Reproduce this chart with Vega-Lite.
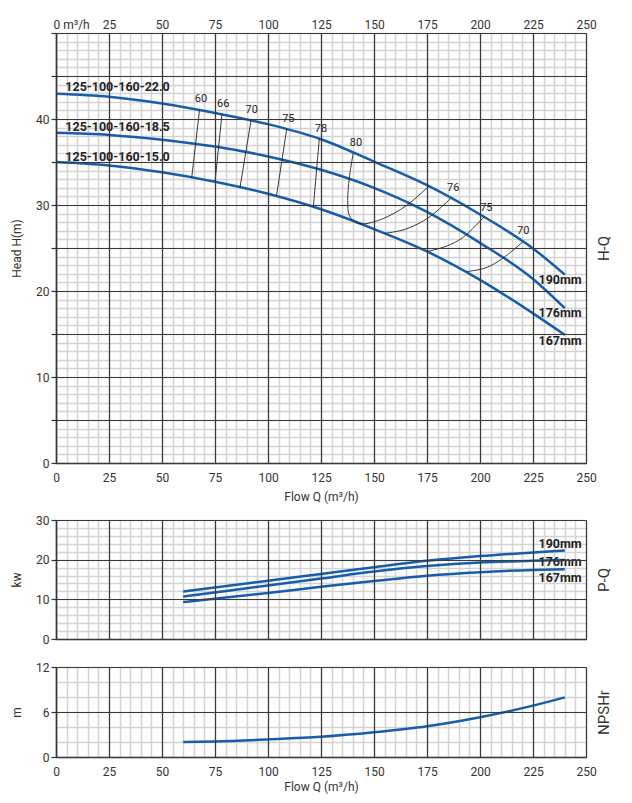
{
  "$schema": "https://vega.github.io/schema/vega-lite/v6.json",
  "padding": {"left": 10, "top": 18, "right": 5, "bottom": 5},
  "spacing": 12,
  "config": {
    "view": {"stroke": null},
    "font": "Roboto",
    "axis": {
      "labelFont": "Roboto", "titleFont": "Roboto", "labelColor": "#333", "titleColor": "#333",
      "labelFontSize": 12, "titleFontSize": 12, "titleFontWeight": "normal", "gridOpacity": 1
    }
  },
  "datasets": {
    "hq": [
      {"curve": "190", "q": 0, "h": 42.95}, {"curve": "190", "q": 25, "h": 42.6}, {"curve": "190", "q": 50, "h": 41.8},
      {"curve": "190", "q": 75, "h": 40.7}, {"curve": "190", "q": 100, "h": 39.4}, {"curve": "190", "q": 125, "h": 37.65},
      {"curve": "190", "q": 150, "h": 35.05}, {"curve": "190", "q": 175, "h": 32.3}, {"curve": "190", "q": 200, "h": 28.9},
      {"curve": "190", "q": 225, "h": 24.95}, {"curve": "190", "q": 240, "h": 21.9},
      {"curve": "176", "q": 0, "h": 38.4}, {"curve": "176", "q": 25, "h": 38.15}, {"curve": "176", "q": 50, "h": 37.6},
      {"curve": "176", "q": 75, "h": 36.8}, {"curve": "176", "q": 100, "h": 35.65}, {"curve": "176", "q": 125, "h": 34.1},
      {"curve": "176", "q": 150, "h": 32.0}, {"curve": "176", "q": 175, "h": 29.2}, {"curve": "176", "q": 200, "h": 25.6},
      {"curve": "176", "q": 225, "h": 21.4}, {"curve": "176", "q": 240, "h": 18.0},
      {"curve": "167", "q": 0, "h": 35.0}, {"curve": "167", "q": 25, "h": 34.6}, {"curve": "167", "q": 50, "h": 33.8},
      {"curve": "167", "q": 75, "h": 32.7}, {"curve": "167", "q": 100, "h": 31.3}, {"curve": "167", "q": 125, "h": 29.5},
      {"curve": "167", "q": 150, "h": 27.2}, {"curve": "167", "q": 175, "h": 24.6}, {"curve": "167", "q": 200, "h": 21.3},
      {"curve": "167", "q": 225, "h": 17.4}, {"curve": "167", "q": 240, "h": 14.9}
    ],
    "eff": [
      {"line": "e60", "i": 0, "q": 67.7, "h": 41.05}, {"line": "e60", "i": 1, "q": 64.0, "h": 33.15},
      {"line": "e66", "i": 0, "q": 78.3, "h": 40.6}, {"line": "e66", "i": 1, "q": 75.0, "h": 32.65},
      {"line": "e70", "i": 0, "q": 92.0, "h": 39.85}, {"line": "e70", "i": 1, "q": 86.8, "h": 32.05},
      {"line": "e75", "i": 0, "q": 108.8, "h": 38.8}, {"line": "e75", "i": 1, "q": 104.0, "h": 31.05},
      {"line": "e78", "i": 0, "q": 124.2, "h": 37.7}, {"line": "e78", "i": 1, "q": 121.4, "h": 29.8},
      {"line": "e80", "i": 0, "q": 140.2, "h": 36.05}, {"line": "e80", "i": 1, "q": 138.4, "h": 33.2},
      {"line": "e80", "i": 2, "q": 137.6, "h": 30.5}, {"line": "e80", "i": 3, "q": 138.3, "h": 28.8},
      {"line": "e80", "i": 4, "q": 140.7, "h": 28.1}, {"line": "e80", "i": 5, "q": 144.6, "h": 27.8},
      {"line": "e80", "i": 6, "q": 154.1, "h": 28.4}, {"line": "e80", "i": 7, "q": 165.1, "h": 29.9},
      {"line": "e80", "i": 8, "q": 176.1, "h": 32.25},
      {"line": "e76", "i": 0, "q": 186.3, "h": 30.8}, {"line": "e76", "i": 1, "q": 176.1, "h": 28.6},
      {"line": "e76", "i": 2, "q": 165.1, "h": 27.2}, {"line": "e76", "i": 3, "q": 154.9, "h": 26.7},
      {"line": "e75r", "i": 0, "q": 202.0, "h": 28.65}, {"line": "e75r", "i": 1, "q": 191.8, "h": 26.2},
      {"line": "e75r", "i": 2, "q": 184.0, "h": 25.2}, {"line": "e75r", "i": 3, "q": 175.3, "h": 24.6},
      {"line": "e70r", "i": 0, "q": 220.1, "h": 25.7}, {"line": "e70r", "i": 1, "q": 210.7, "h": 23.8},
      {"line": "e70r", "i": 2, "q": 202.8, "h": 22.7}, {"line": "e70r", "i": 3, "q": 193.4, "h": 22.25}
    ],
    "effLabels": [
      {"text": "60", "q": 68.4, "h": 42.3}, {"text": "66", "q": 78.9, "h": 41.8}, {"text": "70", "q": 92.3, "h": 41.1},
      {"text": "75", "q": 109.6, "h": 40.0}, {"text": "78", "q": 125.0, "h": 38.8}, {"text": "80", "q": 141.5, "h": 37.2},
      {"text": "76", "q": 187.4, "h": 32.0}, {"text": "75", "q": 203.0, "h": 29.7}, {"text": "70", "q": 220.4, "h": 27.0}
    ],
    "modelLabels": [
      {"text": "125-100-160-22.0", "q": 4.4, "h": 43.2},
      {"text": "125-100-160-18.5", "q": 4.4, "h": 38.6},
      {"text": "125-100-160-15.0", "q": 4.4, "h": 35.15}
    ],
    "hqLabels": [
      {"text": "190mm", "q": 227.6, "h": 21.3},
      {"text": "176mm", "q": 227.6, "h": 17.4},
      {"text": "167mm", "q": 227.6, "h": 14.2}
    ],
    "pq": [
      {"curve": "190", "q": 60, "p": 11.95}, {"curve": "190", "q": 100, "p": 14.7}, {"curve": "190", "q": 125, "p": 16.4},
      {"curve": "190", "q": 150, "p": 18.1}, {"curve": "190", "q": 175, "p": 19.7}, {"curve": "190", "q": 200, "p": 20.9},
      {"curve": "190", "q": 225, "p": 21.8}, {"curve": "190", "q": 240, "p": 22.3},
      {"curve": "176", "q": 60, "p": 10.7}, {"curve": "176", "q": 100, "p": 13.5}, {"curve": "176", "q": 125, "p": 15.25},
      {"curve": "176", "q": 150, "p": 17.0}, {"curve": "176", "q": 175, "p": 18.4}, {"curve": "176", "q": 200, "p": 19.3},
      {"curve": "176", "q": 225, "p": 19.7}, {"curve": "176", "q": 240, "p": 19.9},
      {"curve": "167", "q": 60, "p": 9.3}, {"curve": "167", "q": 100, "p": 11.6}, {"curve": "167", "q": 125, "p": 13.15},
      {"curve": "167", "q": 150, "p": 14.6}, {"curve": "167", "q": 175, "p": 15.95}, {"curve": "167", "q": 200, "p": 16.85},
      {"curve": "167", "q": 225, "p": 17.4}, {"curve": "167", "q": 240, "p": 17.6}
    ],
    "pqLabels": [
      {"text": "190mm", "q": 227.6, "p": 23.9},
      {"text": "176mm", "q": 227.6, "p": 19.3},
      {"text": "167mm", "q": 227.6, "p": 15.4}
    ],
    "npsh": [
      {"q": 60, "m": 2.0}, {"q": 75, "m": 2.08}, {"q": 100, "m": 2.35}, {"q": 125, "m": 2.7}, {"q": 150, "m": 3.3},
      {"q": 175, "m": 4.1}, {"q": 200, "m": 5.3}, {"q": 225, "m": 6.85}, {"q": 240, "m": 7.95}
    ]
  },
  "vconcat": [
    {
      "width": 530,
      "height": 430,
      "resolve": {"axis": {"x": "independent", "y": "independent"}},
      "layer": [
        {
          "data": {"name": "hq"},
          "mark": {"type": "line", "color": "#165eab", "strokeWidth": 2.5, "interpolate": "monotone", "zindex": 2},
          "encoding": {
            "x": {
              "field": "q", "type": "quantitative", "scale": {"domain": [0, 250], "nice": false, "zero": false},
              "axis": {
                "orient": "bottom",
                "values": [0,5,10,15,20,25,30,35,40,45,50,55,60,65,70,75,80,85,90,95,100,105,110,115,120,125,130,135,140,145,150,155,160,165,170,175,180,185,190,195,200,205,210,215,220,225,230,235,240,245,250],
                "labelExpr": "datum.value % 25 === 0 ? datum.label : ''",
                "labelOverlap": false, "labelFlush": false, "ticks": false, "labelPadding": 9,
                "domain": true, "domainColor": "#333", "domainWidth": 1.5,
                "grid": true, "gridColor": "#d3d3d3", "gridWidth": 1.5,
                "title": "Flow Q (m³/h)", "titlePadding": 8, "zindex": 0
              }
            },
            "y": {
              "field": "h", "type": "quantitative", "scale": {"domain": [0, 50], "nice": false},
              "axis": {
                "orient": "right",
                "values": [0,1,2,3,4,5,6,7,8,9,10,11,12,13,14,15,16,17,18,19,20,21,22,23,24,25,26,27,28,29,30,31,32,33,34,35,36,37,38,39,40,41,42,43,44,45,46,47,48,49,50],
                "labels": false, "ticks": false, "domain": false,
                "grid": true, "gridColor": "#d3d3d3", "gridWidth": 1.5,
                "title": "H-Q", "titleFontSize": 15, "titleAngle": 270, "titleBaseline": "top", "titlePadding": 10, "zindex": 0
              }
            },
            "detail": {"field": "curve"}
          }
        },
        {
          "data": {"name": "eff"},
          "mark": {"type": "line", "color": "#222", "strokeWidth": 0.9, "interpolate": "catmull-rom", "zindex": 2},
          "encoding": {
            "x": {
              "field": "q", "type": "quantitative", "scale": {"domain": [0, 250], "nice": false, "zero": false},
              "axis": {
                "orient": "top",
                "values": [0,25,50,75,100,125,150,175,200,225,250],
                "labelExpr": "datum.value === 0 ? '0 m³/h' : datum.label",
                "labelAlign": {"condition": {"test": "datum.value === 0", "value": "left"}, "value": "center"},
                "labelOffset": {"condition": {"test": "datum.value === 0", "value": -3}, "value": 0},
                "labelOverlap": false, "labelFlush": false, "ticks": false, "labelPadding": 2,
                "domain": false, "grid": true, "gridColor": "#3a3a3a", "gridWidth": 1.2,
                "title": null, "zindex": 1
              }
            },
            "y": {
              "field": "h", "type": "quantitative", "scale": {"domain": [0, 50], "nice": false},
              "axis": {
                "orient": "left",
                "values": [0,5,10,15,20,25,30,35,40,45,50],
                "labelExpr": "datum.value % 10 === 0 && datum.value < 50 ? datum.label : ''",
                "labelOverlap": false, "tickSize": 5, "tickColor": "#333", "tickWidth": 1.2, "labelPadding": 2,
                "domain": true, "domainColor": "#333", "domainWidth": 1.5,
                "grid": true, "gridColor": "#3a3a3a", "gridWidth": 1.2,
                "title": "Head H(m)", "titlePadding": 12, "zindex": 1
              }
            },
            "detail": {"field": "line"},
            "order": {"field": "i"}
          }
        },
        {
          "data": {"name": "effLabels"},
          "mark": {"type": "text", "fontSize": 11, "color": "#222", "align": "center", "baseline": "middle", "zindex": 2},
          "encoding": {
            "x": {"field": "q", "type": "quantitative", "axis": null},
            "y": {"field": "h", "type": "quantitative", "axis": null},
            "text": {"field": "text"}
          }
        },
        {
          "data": {"name": "modelLabels"},
          "mark": {"type": "text", "fontSize": 12.5, "fontWeight": "bold", "color": "#222", "align": "left", "baseline": "alphabetic", "zindex": 2},
          "encoding": {
            "x": {"field": "q", "type": "quantitative", "axis": null},
            "y": {"field": "h", "type": "quantitative", "axis": null},
            "text": {"field": "text"}
          }
        },
        {
          "data": {"name": "hqLabels"},
          "mark": {"type": "text", "fontSize": 12.5, "fontWeight": "bold", "color": "#222", "align": "left", "baseline": "middle", "zindex": 2},
          "encoding": {
            "x": {"field": "q", "type": "quantitative", "axis": null},
            "y": {"field": "h", "type": "quantitative", "axis": null},
            "text": {"field": "text"}
          }
        }
      ]
    },
    {
      "spacing": 16,
      "vconcat": [
        {
          "width": 530,
          "height": 119,
          "resolve": {"axis": {"x": "independent", "y": "independent"}},
          "layer": [
            {
              "data": {"name": "pq"},
              "mark": {"type": "line", "color": "#165eab", "strokeWidth": 2.5, "interpolate": "monotone", "zindex": 2},
              "encoding": {
                "x": {
                  "field": "q", "type": "quantitative", "scale": {"domain": [0, 250], "nice": false, "zero": false},
                  "axis": {
                    "orient": "bottom",
                    "values": [0,5,10,15,20,25,30,35,40,45,50,55,60,65,70,75,80,85,90,95,100,105,110,115,120,125,130,135,140,145,150,155,160,165,170,175,180,185,190,195,200,205,210,215,220,225,230,235,240,245,250],
                    "labels": false, "ticks": false,
                    "domain": true, "domainColor": "#333", "domainWidth": 1.5,
                    "grid": true, "gridColor": "#d3d3d3", "gridWidth": 1.5,
                    "title": null, "zindex": 0
                  }
                },
                "y": {
                  "field": "p", "type": "quantitative", "scale": {"domain": [0, 30], "nice": false},
                  "axis": {
                    "orient": "right",
                    "values": [0,2,4,6,8,10,12,14,16,18,20,22,24,26,28,30],
                    "labels": false, "ticks": false, "domain": false,
                    "grid": true, "gridColor": "#d3d3d3", "gridWidth": 1.5,
                    "title": "P-Q", "titleFontSize": 15, "titleAngle": 270, "titleBaseline": "top", "titlePadding": 10, "zindex": 0
                  }
                },
                "detail": {"field": "curve"}
              }
            },
            {
              "data": {"name": "pqLabels"},
              "mark": {"type": "text", "fontSize": 12.5, "fontWeight": "bold", "color": "#222", "align": "left", "baseline": "middle", "zindex": 2},
              "encoding": {
                "x": {
                  "field": "q", "type": "quantitative", "scale": {"domain": [0, 250], "nice": false, "zero": false},
                  "axis": {
                    "orient": "top", "values": [0,25,50,75,100,125,150,175,200,225,250],
                    "labels": false, "ticks": false, "domain": false,
                    "grid": true, "gridColor": "#3a3a3a", "gridWidth": 1.2, "title": null, "zindex": 1
                  }
                },
                "y": {
                  "field": "p", "type": "quantitative", "scale": {"domain": [0, 30], "nice": false},
                  "axis": {
                    "orient": "left", "values": [0,10,20,30],
                    "tickSize": 5, "tickColor": "#333", "tickWidth": 1.2, "labelPadding": 2,
                    "domain": true, "domainColor": "#333", "domainWidth": 1.5,
                    "grid": true, "gridColor": "#3a3a3a", "gridWidth": 1.2,
                    "title": "kw", "titlePadding": 12, "zindex": 1
                  }
                },
                "text": {"field": "text"}
              }
            }
          ]
        },
        {
          "width": 530,
          "height": 90,
          "resolve": {"axis": {"x": "independent", "y": "independent"}},
          "layer": [
            {
              "data": {"name": "npsh"},
              "mark": {"type": "line", "color": "#165eab", "strokeWidth": 2.5, "interpolate": "monotone", "zindex": 2},
              "encoding": {
                "x": {
                  "field": "q", "type": "quantitative", "scale": {"domain": [0, 250], "nice": false, "zero": false},
                  "axis": {
                    "orient": "bottom",
                    "values": [0,5,10,15,20,25,30,35,40,45,50,55,60,65,70,75,80,85,90,95,100,105,110,115,120,125,130,135,140,145,150,155,160,165,170,175,180,185,190,195,200,205,210,215,220,225,230,235,240,245,250],
                    "labelExpr": "datum.value % 25 === 0 ? datum.label : ''",
                    "labelOverlap": false, "labelFlush": false, "ticks": false, "labelPadding": 9,
                    "domain": true, "domainColor": "#333", "domainWidth": 1.5,
                    "grid": true, "gridColor": "#d3d3d3", "gridWidth": 1.5,
                    "title": "Flow Q (m³/h)", "titlePadding": 4, "zindex": 0
                  }
                },
                "y": {
                  "field": "m", "type": "quantitative", "scale": {"domain": [0, 12], "nice": false},
                  "axis": {
                    "orient": "right", "values": [0,2,4,6,8,10,12],
                    "labels": false, "ticks": false, "domain": false,
                    "grid": true, "gridColor": "#d3d3d3", "gridWidth": 1.5,
                    "title": "NPSHr", "titleFontSize": 15, "titleAngle": 270, "titleBaseline": "top", "titlePadding": 10, "zindex": 0
                  }
                }
              }
            },
            {
              "data": {"name": "npsh"},
              "mark": {"type": "line", "strokeOpacity": 0, "interpolate": "monotone"},
              "encoding": {
                "x": {
                  "field": "q", "type": "quantitative", "scale": {"domain": [0, 250], "nice": false, "zero": false},
                  "axis": {
                    "orient": "top", "values": [0,25,50,75,100,125,150,175,200,225,250],
                    "labels": false, "ticks": false, "domain": false,
                    "grid": true, "gridColor": "#3a3a3a", "gridWidth": 1.2, "title": null, "zindex": 1
                  }
                },
                "y": {
                  "field": "m", "type": "quantitative", "scale": {"domain": [0, 12], "nice": false},
                  "axis": {
                    "orient": "left", "values": [0,6,12],
                    "tickSize": 5, "tickColor": "#333", "tickWidth": 1.2, "labelPadding": 2,
                    "domain": true, "domainColor": "#333", "domainWidth": 1.5,
                    "grid": true, "gridColor": "#3a3a3a", "gridWidth": 1.2,
                    "title": "m", "titlePadding": 12, "zindex": 1
                  }
                }
              }
            }
          ]
        }
      ]
    }
  ]
}
